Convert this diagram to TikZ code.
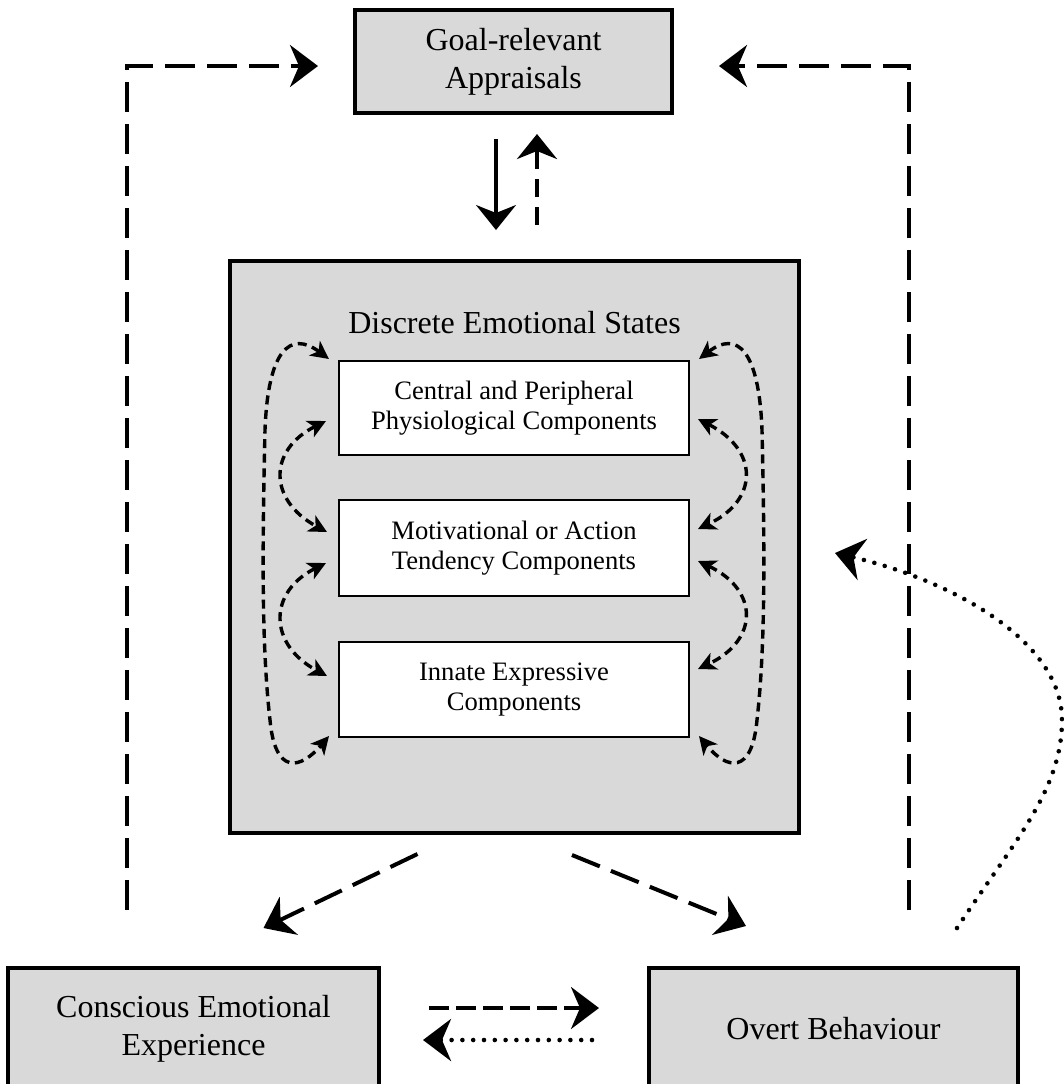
\documentclass[tikz,border=0pt]{standalone}
\usepackage{fontspec}
\setmainfont{Liberation Serif}
\usetikzlibrary{arrows.meta,calc}

\newcommand{\boxfont}{\fontsize{16}{19}\selectfont}
\newcommand{\compfont}{\fontsize{13.3}{15}\selectfont}

\tikzset{
  shadedbox/.style={draw, line width=2pt, fill=black!15, inner sep=0pt, align=center, font=\boxfont},
  compbox/.style={draw, line width=1pt, fill=white, inner sep=0pt, align=center, font=\compfont,
                  minimum width=175pt},
  longdash/.style={line width=2pt, dash pattern=on 15pt off 6pt},
  dotline/.style={line width=2.3pt, line cap=round, dash pattern=on 0pt off 5.4pt},
  feedtip/.style={-{Stealth[length=14pt,width=21pt,inset=4.5pt]}},
  loopdash/.style={line width=1.7pt, dash pattern=on 4.5pt off 2.8pt,
                   {Stealth[length=9pt,width=9pt,inset=2.5pt]}-{Stealth[length=9pt,width=9pt,inset=2.5pt]}}
}

\begin{document}
\begin{tikzpicture}[x=0.5pt,y=-0.5pt]
\useasboundingbox (0,0) rectangle (1064,1084);
\clip (0,0) rectangle (1064,1084);

% boxes
\node[shadedbox, minimum width=158.5pt, minimum height=51.5pt] (goal) at (513.5,61.5)
  {Goal-relevant\\Appraisals};
\node[shadedbox, minimum width=284.5pt, minimum height=286pt] (des) at (514.5,547) {};
\node[font=\boxfont, anchor=base, inner sep=0pt] (dtitle) at (514.5,333) {Discrete Emotional States};
\node[compbox, minimum height=47pt] (b1) at (514,408)
  {Central and Peripheral\\Physiological Components};
\node[compbox, minimum height=48pt] (b2) at (514,548)
  {Motivational or Action\\Tendency Components};
\node[compbox, minimum height=47.5pt] (b3) at (514,689.5)
  {Innate Expressive\\Components};
\node[shadedbox, minimum width=185.5pt, minimum height=61pt] (cee) at (193.5,1029)
  {Conscious Emotional\\Experience};
\node[shadedbox, minimum width=184.5pt, minimum height=61pt] (ob) at (833.5,1029)
  {Overt Behaviour};

% feedback paths to the appraisals
\coordinate (lfoot) at (127,910);
\coordinate (rfoot) at (909,910);
\draw[longdash, feedtip, shorten >=17.5pt] (lfoot) |- ($(goal.west)+(0,4.5)$);
\draw[longdash, feedtip, shorten >=22.5pt] (rfoot) |- ($(goal.east)+(0,4.5)$);

% appraisals <-> emotional states
\draw[line width=1.6pt, -{Stealth[length=12.5pt,width=20pt,inset=4pt]}, shorten <=12pt, shorten >=14.5pt]
  ($(goal.south)+(-17.5,0)$) -- ($(des.north)+(-18.5,0)$);
\draw[line width=2pt, dash pattern=on 9pt off 5pt, -{Stealth[length=12.5pt,width=20pt,inset=4pt]},
      shorten <=17pt, shorten >=9.5pt]
  ($(des.north)+(22.5,0)$) -- ($(goal.south)+(23.5,0)$);

% emotional states -> outputs
\draw[longdash, feedtip] ($(des.south)+(-97,19)$) -- ($(cee.north)+(70,-38)$);
\draw[longdash, feedtip] ($(des.south)+(57.5,20)$) -- ($(ob.north)+(-87.5,-40)$);

% experience <-> behaviour
\draw[line width=1.75pt, dash pattern=on 10pt off 3.5pt, feedtip]
  ($(cee.east)+(48,-21)$) -- ($(ob.west)+(-48,-21)$);
\draw[dotline, feedtip] ($(ob.west)+(-55,11)$) -- ($(cee.east)+(42,11)$);

% behaviour -> emotional states
\draw[dotline, feedtip] ($(ob.north)+(123.5,-38)$)
  .. controls (1015,840) and (1062,790) .. (1062,720)
  .. controls (1062,640) and (950,580) .. ($(des.east)+(34,6)$);

% links among the components (left side)
\draw[loopdash] ($(b1.north west)+(-9,-1)$)
  .. controls (290,330) and (268,350) .. (265,430)
  .. controls (262,560) and (262,650) .. (270,720)
  .. controls (275,775) and (300,770) .. ($(b3.south west)+(-9,-2)$);
\draw[loopdash] ($(b1.south west)+(-12,-35)$)
  .. controls (268,450) and (268,500) .. ($(b2.north west)+(-11,33)$);
\draw[loopdash] ($(b2.south west)+(-12,-34)$)
  .. controls (268,592) and (268,644) .. ($(b3.north west)+(-11,35)$);

% links among the components (right side)
\draw[loopdash] ($(b1.north east)+(9,-1)$)
  .. controls (737,330) and (759,350) .. (762,430)
  .. controls (765,560) and (765,650) .. (757,720)
  .. controls (752,775) and (727,770) .. ($(b3.south east)+(9,-2)$);
\draw[loopdash] ($(b1.south east)+(8,-37)$)
  .. controls (759,450) and (759,500) .. ($(b2.north east)+(8,30)$);
\draw[loopdash] ($(b2.south east)+(8,-36)$)
  .. controls (759,590) and (759,640) .. ($(b3.north east)+(8,28)$);
\end{tikzpicture}
\end{document}
